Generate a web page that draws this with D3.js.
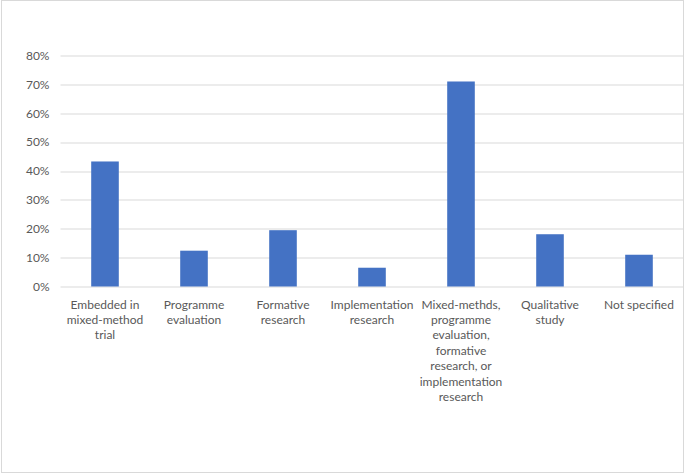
<!DOCTYPE html>
<html>
<head>
<meta charset="utf-8">
<script src="https://cdn.jsdelivr.net/npm/d3@7"></script>
<style>
  body { margin: 0; background: #fff; }
  text { font-family: 'Lato', 'Open Sans', sans-serif; fill: #595959; }
</style>
</head>
<body>
<div id="chart"></div>
<script>
// categories (line breaks as in the original chart)
var categories = [
  'Embedded in\nmixed-method\ntrial',
  'Programme\nevaluation',
  'Formative\nresearch',
  'Implementation\nresearch',
  'Mixed-methds,\nprogramme\nevaluation,\nformative\nresearch, or\nimplementation\nresearch',
  'Qualitative\nstudy',
  'Not specified'
]
var values = [0.433, 0.124, 0.195, 0.065, 0.71, 0.181, 0.11]
var yTicks = [0, 0.1, 0.2, 0.3, 0.4, 0.5, 0.6, 0.7, 0.8]

var width = 685
var height = 475
var margin = {top: 55.5, right: 1.5, bottom: 188.5, left: 60.5}
var innerW = width - margin.left - margin.right
var innerH = height - margin.top - margin.bottom

var svg = d3.select('#chart')
  .append('svg')
  .attr('width', width)
  .attr('height', height)

// chart frame
svg.append('rect')
  .attr('x', 1.5)
  .attr('y', 0.5)
  .attr('width', 682)
  .attr('height', 472)
  .attr('fill', '#fff')
  .attr('stroke', '#d9d9d9')
  .attr('stroke-width', 1)

var g = svg.append('g')
  .attr('transform', 'translate(' + margin.left + ',' + margin.top + ')')

var x = d3.scaleBand()
  .domain(categories)
  .range([0, innerW])
  .paddingInner(0.69)
  .paddingOuter(0.345)

var y = d3.scaleLinear()
  .domain([0, 0.8])
  .range([innerH, 0])

// gridlines
g.selectAll('line.grid')
  .data(yTicks)
  .enter()
  .append('line')
  .attr('class', 'grid')
  .attr('x1', 0)
  .attr('x2', innerW)
  .attr('y1', (d) => { return Math.round(y(d)) + 0.5 })
  .attr('y2', (d) => { return Math.round(y(d)) + 0.5 })
  .attr('stroke', '#d9d9d9')
  .attr('stroke-width', 1)

// y axis labels
var yAxis = d3.axisLeft(y)
  .tickValues(yTicks)
  .tickFormat(d3.format('.0%'))
  .tickSize(0)
  .tickPadding(11)
var yg = g.append('g').call(yAxis)
yg.select('.domain').remove()
yg.selectAll('text')
  .style('font-size', '12px')
  .attr('fill', '#595959')

// bars
g.selectAll('rect.bar')
  .data(values)
  .enter()
  .append('rect')
  .attr('class', 'bar')
  .attr('x', (d, i) => { return x(categories[i]) })
  .attr('width', x.bandwidth())
  .attr('y', (d) => { return y(d) })
  .attr('height', (d) => { return y(0) - y(d) })
  .attr('fill', '#4472c4')

// category labels
var labels = g.selectAll('text.cat')
  .data(categories)
  .enter()
  .append('text')
  .attr('class', 'cat')
  .attr('text-anchor', 'middle')
  .style('font-size', '12px')
  .attr('transform', (d) => { return 'translate(' + (x(d) + x.bandwidth() / 2) + ',' + (innerH + 22) + ')' })

labels.selectAll('tspan')
  .data((d) => { return d.split('\n') })
  .enter()
  .append('tspan')
  .attr('x', 0)
  .attr('y', (d, i) => { return i * 15.4 })
  .text((d) => { return d })
</script>
</body>
</html>
